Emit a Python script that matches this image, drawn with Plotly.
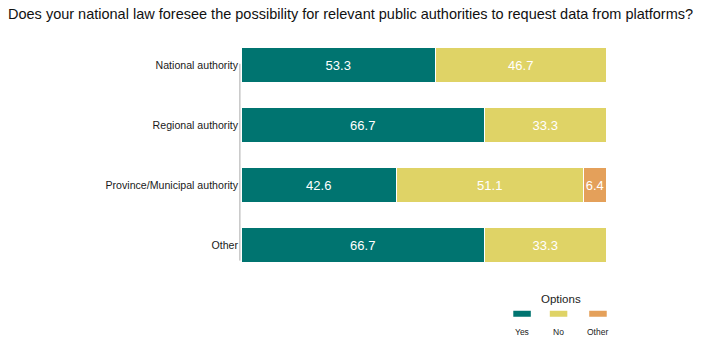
import plotly.graph_objects as go

categories = ["National authority", "Regional authority", "Province/Municipal authority", "Other"]
yes_vals = [53.3, 66.7, 42.6, 66.7]
no_vals = [46.7, 33.3, 51.1, 33.3]
other_vals = [None, None, 6.4, None]
series_names = ["Yes", "No", "Other"]
series_colors = ["#007470", "#DFD366", "#E4A05A"]

FONT = "Liberation Sans"

fig = go.Figure()
for name, vals, col in zip(series_names, [yes_vals, no_vals, other_vals], series_colors):
    fig.add_trace(go.Bar(
        y=categories, x=vals, name=name, orientation="h",
        marker=dict(color=col, line=dict(color="white", width=1)),
        text=[("" if v is None else f"{v:.1f}") for v in vals],
        textposition="inside", insidetextanchor="middle",
        constraintext="none", textangle=0,
        textfont=dict(color="white", size=13, family=FONT),
        showlegend=False, hoverinfo="x+y+name",
    ))

fig.update_layout(
    width=704, height=338,
    margin=dict(l=241, r=98, t=35, b=63, autoexpand=False),
    barmode="stack", bargap=0.42,
    plot_bgcolor="white", paper_bgcolor="white",
    font=dict(family=FONT, color="#222222"),
    title=dict(text="Does your national law foresee the possibility for relevant public authorities to request data from platforms?",
               x=8 / 704, xanchor="left", xref="container", y=0.96, yanchor="middle",
               pad=dict(l=0, r=0, t=0, b=0),
               font=dict(size=14.5, family=FONT, color="#111111")),
    xaxis=dict(range=[0, 100], visible=False, fixedrange=True),
    yaxis=dict(categoryorder="array", categoryarray=categories, autorange="reversed",
               showline=False, ticks="", showgrid=False, automargin=False,
               tickfont=dict(size=10.6, family=FONT, color="#1a1a1a"),
               ticklabelstandoff=2),
)

# axis line
fig.add_shape(type="line", xref="paper", yref="paper", x0=-0.003, x1=-0.003, y0=0.06, y1=0.88,
              line=dict(color="#AAAAAA", width=1), layer="below")

# custom legend
fig.add_annotation(text="Options", xref="paper", yref="paper", x=0.877, y=-0.1,
                   xanchor="center", yanchor="middle", showarrow=False,
                   font=dict(size=11.5, family=FONT, color="#222222"))
leg_x = [0.77, 0.870, 0.978]
for name, col, cx in zip(series_names, series_colors, leg_x):
    fig.add_shape(type="rect", xref="paper", yref="paper",
                  x0=cx - 0.024, x1=cx + 0.024, y0=-0.174, y1=-0.149,
                  fillcolor=col, line=dict(width=0))
    fig.add_annotation(text=name, xref="paper", yref="paper", x=cx, y=-0.236,
                       xanchor="center", yanchor="middle", showarrow=False,
                       font=dict(size=8.5, family=FONT, color="#222222"))

fig.write_html("out.html", config={"displayModeBar": False},
               post_script="document.body.style.margin='0';document.body.style.padding='0';")
